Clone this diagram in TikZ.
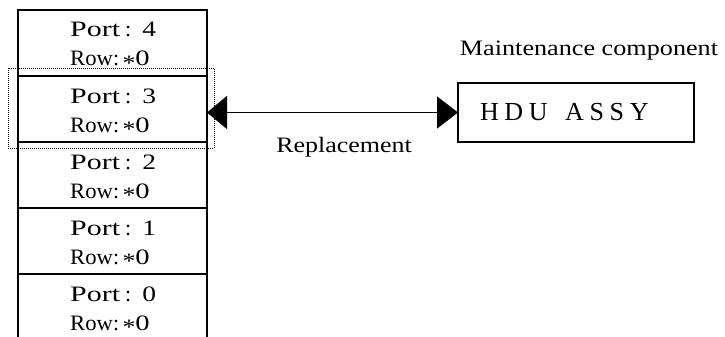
\documentclass[tikz,border=0pt]{standalone}
\usepackage{fontspec}
\usepackage{graphicx}
\setmainfont{Liberation Serif}
\newfontfamily\hdufont{Liberation Serif}[LetterSpace=22]
\usetikzlibrary{arrows.meta,calc}
% horizontally widened text
\newcommand\wide[2]{\scalebox{#1}[1]{#2}}
% the two lines of a port cell
\newcommand\portline[1]{\makebox[55pt][l]{\wide{1.36}{Port}}:\hspace{11pt}\wide{1.25}{#1}}
\newcommand\rowline{\wide{1.03}{Row}:\hspace{3.5pt}\raisebox{-0.2em}[\height][0pt]{\wide{1.17}{*}}\wide{1.3}{0}}
\begin{document}
\begin{tikzpicture}[x=1pt,y=-1pt,
  cell/.style={draw, line width=1.6pt, minimum width=189pt, minimum height=66pt,
               inner sep=0pt, outer sep=0pt, anchor=north west},
  lbl/.style={font=\fontsize{22}{26}\selectfont, inner sep=0pt, anchor=base west},
  selbox/.style={line width=1pt, dash pattern=on 1pt off 1pt},
  partbox/.style={draw, line width=1.6pt, minimum width=236pt, minimum height=59pt,
                  text width=192pt, inner xsep=22pt, inner ysep=0pt, align=left,
                  outer sep=0pt, anchor=north west,
                  font=\hdufont\fontsize{26}{30}\selectfont},
  conn/.style={line width=1.5pt,
               {Triangle[length=20pt,width=33pt]}-{Triangle[length=21pt,width=32pt]}}]
\useasboundingbox (0,0) rectangle (725,337);

% column of port cells, each with its port number and row
\foreach \n/\y in {4/10,3/76,2/142,1/208,0/274} {
  \node[cell] (p\n) at (18,\y) {};
  \node[lbl] (port\n) at (70,\y+27) {\portline{\n}};
  \node[lbl] (row\n) at (70,\y+56) {\rowline};
}

% selected cell
\draw[selbox] ($(p3.north west)+(-10,-8)$) rectangle ($(p3.south east)+(7,6)$);

% maintenance component
\node[partbox] (hdu) at (458,83) {HDU\ \ ASSY};
\node[lbl, anchor=base] (maint) at (589,55.7) {\wide{1.19}{Maintenance component}};

% replacement link
\draw[conn] (hdu.west -| p3.east) -- (hdu.west);
\node[lbl, anchor=base] (repl) at (344,152.5) {\wide{1.18}{Replacement}};
\end{tikzpicture}
\end{document}
